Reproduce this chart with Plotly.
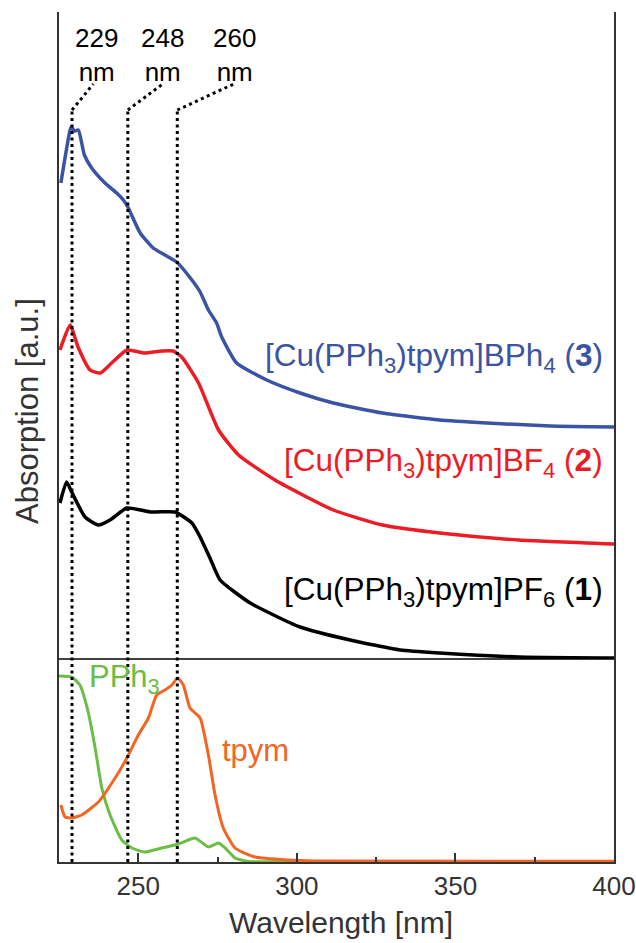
import plotly.graph_objects as go

# ---------------- data ----------------
# Top panel: stacked spectra of complexes (arbitrary units, offset as displayed)
wl_3 = [225.6, 228.5, 229.0, 229.8, 231.1, 233.0, 235.3, 239.5, 243.2, 245.3, 246.7, 250.6, 254.7,
        258.4, 262.1, 266.9, 269.5, 272.1, 274.7, 276.3, 281.0, 290.5, 301.0, 311.5, 327.0, 345.0,
        360.0, 380.0, 400.0]
abs_3 = [476, 529, 532, 528, 529, 504, 491, 476, 466, 459, 452, 426, 411,
         404, 397, 379, 367, 349, 336, 322, 296, 279, 266, 256, 246, 239,
         236, 233, 232]

wl_2 = [225.3, 228.5, 231.0, 234.8, 238.0, 241.6, 246.4, 252.0, 257.4, 261.0, 263.7, 269.0, 275.3,
        281.6, 293.1, 311.5, 327.0, 345.0, 370.0, 400.0]
abs_2 = [309, 334, 312, 289, 286, 296, 309, 306, 308, 308, 302, 276, 229,
         204, 179, 149, 134, 126, 119, 115]

wl_1 = [225.3, 227.4, 229.0, 233.2, 237.4, 241.1, 246.4, 254.2, 261.6, 266.9, 269.5, 272.6, 275.8,
        285.3, 301.0, 316.8, 332.6, 345.0, 370.0, 400.0]
abs_1 = [156, 177, 167, 142, 134, 139, 151, 147, 147, 136, 122, 101, 79,
         56, 32, 19, 9, 6, 2, 1]

# Bottom panel: free ligands
wl_pph3 = [225.0, 229.0, 231.6, 234.2, 236.4, 238.5, 241.1, 244.8, 248.0, 252.0, 257.4, 262.6, 267.9,
           272.1, 275.3, 277.4, 280.5, 284.7, 300.0, 400.0]
abs_pph3 = [186, 185, 177, 150, 114, 74, 47, 22, 14, 10, 14, 18, 24,
            15, 19, 14, 4, 0.5, 0.5, 0.5]

wl_tpym = [225.6, 226.9, 229.0, 232.2, 237.4, 242.7, 246.4, 250.0, 253.2, 255.8, 258.4, 260.6, 262.4,
           264.2, 266.3, 269.5, 272.1, 274.2, 276.8, 280.5, 286.8, 297.3, 305.8, 400.0]
abs_tpym = [57, 45, 44, 47, 60, 84, 104, 127, 144, 167, 172, 177, 184,
            177, 154, 144, 107, 67, 34, 14, 5, 2, 1, 0.8]

series_names = ["[Cu(PPh<sub>3</sub>)tpym]BPh<sub>4</sub> (<b>3</b>)",
                "[Cu(PPh<sub>3</sub>)tpym]BF<sub>4</sub> (<b>2</b>)",
                "[Cu(PPh<sub>3</sub>)tpym]PF<sub>6</sub> (<b>1</b>)"]
ligand_names = ["PPh<sub>3</sub>", "tpym"]

# guide lines (drawn position) and their labels
guide_wl = [229.1, 246.7, 262.3]
guide_labels = ["229<br>nm", "248<br>nm", "260<br>nm"]

x_ticks = [250, 300, 350, 400]

# ---------------- styling ----------------
BLUE = "#3A53A4"
RED = "#ED1C24"
BLACK = "#000000"
GREEN = "#6ABD45"
ORANGE = "#F26522"
AX = "#333333"
FONT = "Liberation Sans, Arial, sans-serif"

split = 203 / 850  # bottom panel height fraction

fig = go.Figure()

sm = 0.5
fig.add_trace(go.Scatter(x=wl_3, y=abs_3, mode="lines", line=dict(color=BLUE, width=3.5, shape="spline", smoothing=sm),
                         xaxis="x", yaxis="y", showlegend=False))
fig.add_trace(go.Scatter(x=wl_2, y=abs_2, mode="lines", line=dict(color=RED, width=3.5, shape="spline", smoothing=sm),
                         xaxis="x", yaxis="y", showlegend=False))
fig.add_trace(go.Scatter(x=wl_1, y=abs_1, mode="lines", line=dict(color=BLACK, width=3.5, shape="spline", smoothing=sm),
                         xaxis="x", yaxis="y", showlegend=False))
fig.add_trace(go.Scatter(x=wl_pph3, y=abs_pph3, mode="lines", line=dict(color=GREEN, width=3, shape="spline", smoothing=sm),
                         xaxis="x", yaxis="y2", showlegend=False))
fig.add_trace(go.Scatter(x=wl_tpym, y=abs_tpym, mode="lines", line=dict(color=ORANGE, width=3, shape="spline", smoothing=sm),
                         xaxis="x", yaxis="y2", showlegend=False))

shapes = []
# divider between panels
shapes.append(dict(type="line", xref="paper", yref="paper", x0=0, x1=1, y0=split, y1=split,
                   line=dict(color=BLACK, width=1.5)))
# dotted guides
vtop = (862 - 110) / 850
dtop = (862 - 84) / 850
diag_end = [235.8, 257.7, 280.1]
for g, e in zip(guide_wl, diag_end):
    shapes.append(dict(type="line", xref="x", yref="paper", x0=g, x1=g, y0=0, y1=vtop,
                       line=dict(color=BLACK, width=3, dash="3px,3.5px")))
    shapes.append(dict(type="line", xref="x", yref="paper", x0=g, x1=e, y0=vtop, y1=dtop,
                       line=dict(color=BLACK, width=3, dash="3px,3.5px")))

annotations = []
label_x = [236.7, 257.6, 280.3]
for lx, t in zip(label_x, guide_labels):
    annotations.append(dict(x=lx, y=(862 - 55) / 850, xref="x", yref="paper", text=t, showarrow=False,
                            xanchor="center", yanchor="middle", font=dict(family=FONT, size=26, color=BLACK)))

# series labels
for txt, yv, col in zip(series_names, [302, 197, 68], [BLUE, RED, BLACK]):
    annotations.append(dict(x=397.2, y=yv, xref="x", yref="y", text=txt, showarrow=False,
                            xanchor="right", yanchor="middle", font=dict(family=FONT, size=31.5, color=col)))
annotations.append(dict(x=233.8, y=183, xref="x", yref="y2", text=ligand_names[0], showarrow=False,
                        xanchor="left", yanchor="middle", font=dict(family=FONT, size=31, color=GREEN)))
annotations.append(dict(x=275.8, y=112, xref="x", yref="y2", text=ligand_names[1], showarrow=False,
                        xanchor="left", yanchor="middle", font=dict(family=FONT, size=31, color=ORANGE)))

# axis titles
annotations.append(dict(x=(28 - 59) / 555, y=(862 - 411) / 850, xref="paper", yref="paper",
                        text="Absorption [a.u.]", textangle=-90, showarrow=False,
                        xanchor="center", yanchor="middle", font=dict(family=FONT, size=31, color=AX)))
annotations.append(dict(x=(341 - 59) / 555, y=(862 - 922) / 850, xref="paper", yref="paper",
                        text="Wavelength [nm]", showarrow=False,
                        xanchor="center", yanchor="middle", font=dict(family=FONT, size=30, color=AX)))

common_x = dict(range=[225, 400], tickvals=x_ticks, ticks="inside", ticklen=9, tickwidth=1.5, tickcolor=AX,
                showline=True, linecolor=AX, linewidth=1.5, showgrid=False, zeroline=False,
                automargin=False, ticklabeloverflow="allow",
                minor=dict(ticks="inside", ticklen=5, tickwidth=1.5, tickcolor=AX, dtick=25, tick0=0, showgrid=False))

fig.update_layout(
    width=636, height=943, autosize=False,
    margin=dict(l=59, r=22, t=12, b=81),
    paper_bgcolor="white", plot_bgcolor="white",
    font=dict(family=FONT, color=AX),
    xaxis=dict(**common_x, anchor="y2", showticklabels=True,
               tickfont=dict(family=FONT, size=26, color=AX)),
    xaxis2=dict(**common_x, anchor="y", overlaying="x", side="top", showticklabels=False),
    yaxis=dict(domain=[split, 1], range=[0, 647], anchor="x", showticklabels=False, ticks="", automargin=False,
               showline=True, mirror=True, linecolor=AX, linewidth=1.5, showgrid=False, zeroline=False),
    yaxis2=dict(domain=[0, split], range=[0, 203], anchor="x", showticklabels=False, ticks="", automargin=False,
                showline=True, mirror=True, linecolor=AX, linewidth=1.5, showgrid=False, zeroline=False),
    shapes=shapes,
    annotations=annotations,
)

# remove the default page margin so the figure fills the window exactly
fig.write_html("out.html",
               config={"displayModeBar": False, "responsive": False},
               post_script="document.body.style.margin='0';document.body.style.overflow='hidden';")
